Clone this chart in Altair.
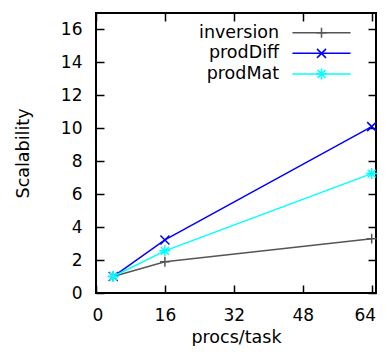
import altair as alt
import pandas as pd

procs = [4, 16, 64]
series_names = ["inversion", "prodDiff", "prodMat"]
inversion = [1.0, 1.9, 3.3]
prodDiff = [1.0, 3.22, 10.1]
prodMat = [1.0, 2.56, 7.25]
x_ticks = [0, 16, 32, 48, 64]
y_ticks = [0, 2, 4, 6, 8, 10, 12, 14, 16]
colors = ["#555555", "#0000ff", "#00ffff"]

# key (legend) placement, in data units of the plot
key_rows = [15.8, 14.55, 13.3]
key_label_x = 42.5
key_line_x0 = 45.6
key_line_x1 = 59.1
key_mark_x = 52.35

rows = []
for name, vals in zip(series_names, [inversion, prodDiff, prodMat]):
    for p, v in zip(procs, vals):
        rows.append({"series": name, "procs": p, "scal": v})
df = pd.DataFrame(rows)

key = pd.DataFrame({
    "series": series_names,
    "ky": key_rows,
    "lx": [key_label_x] * 3,
    "x0": [key_line_x0] * 3,
    "x1": [key_line_x1] * 3,
    "xm": [key_mark_x] * 3,
})

FONT = "DejaVu Sans"
SYM = 3364
marker_paths = [
    "M-0.17,0H0.17M0,-0.17V0.17",
    "M-0.155,-0.155L0.155,0.155M-0.155,0.155L0.155,-0.155",
    "M-0.19,0H0.19M0,-0.19V0.19M-0.135,-0.135L0.135,0.135M-0.135,0.135L0.135,-0.135",
]

xscale = alt.Scale(domain=[0, 65], nice=False, zero=False)
yscale = alt.Scale(domain=[0, 17], nice=False)
cscale = alt.Scale(domain=series_names, range=colors)
sscale = alt.Scale(domain=series_names, range=marker_paths)

tick_style = dict(labels=False, domain=False, grid=False, title=None,
                  tickColor="black", tickWidth=1.5, tickSize=8, offset=-8)

lines = alt.Chart(df).mark_line(strokeWidth=1.5).encode(
    x=alt.X("procs:Q", scale=xscale, axis=alt.Axis(
        orient="bottom", values=x_ticks, ticks=False, domain=False, grid=False,
        labelPadding=14, labelFont=FONT, labelFontSize=17, labelColor="black",
        labelFlush=5, labelFlushOffset=4,
        title="procs/task", titleFont=FONT, titleFontSize=17.5, titleColor="black",
        titleFontWeight="normal", titlePadding=5)),
    y=alt.Y("scal:Q", scale=yscale, axis=alt.Axis(
        orient="left", values=y_ticks, ticks=False, domain=False, grid=False,
        labelPadding=14, labelFont=FONT, labelFontSize=17, labelColor="black",
        title="Scalability", titleFont=FONT, titleFontSize=17.5, titleColor="black",
        titleFontWeight="normal", titlePadding=28)),
    color=alt.Color("series:N", scale=cscale, legend=None),
)

points = alt.Chart(df).mark_point(filled=False, size=SYM, strokeWidth=1.5, opacity=1).encode(
    x=alt.X("procs:Q", scale=xscale, axis=alt.Axis(orient="bottom", values=x_ticks, **tick_style)),
    y=alt.Y("scal:Q", scale=yscale, axis=alt.Axis(orient="left", values=y_ticks, **tick_style)),
    color=alt.Color("series:N", scale=cscale, legend=None),
    shape=alt.Shape("series:N", scale=sscale, legend=None),
)

mirror = alt.Chart(df).mark_point(opacity=0).encode(
    x=alt.X("procs:Q", scale=xscale, axis=alt.Axis(orient="top", values=x_ticks, **tick_style)),
    y=alt.Y("scal:Q", scale=yscale, axis=alt.Axis(orient="right", values=y_ticks, **tick_style)),
)

key_text = alt.Chart(key).mark_text(align="right", baseline="middle", font=FONT,
                                    fontSize=17.5, color="black").encode(
    x=alt.X("lx:Q", scale=xscale, axis=None),
    y=alt.Y("ky:Q", scale=yscale, axis=None),
    text="series:N",
)

key_line = alt.Chart(key).mark_rule(strokeWidth=1.5).encode(
    x=alt.X("x0:Q", scale=xscale, axis=None),
    x2="x1:Q",
    y=alt.Y("ky:Q", scale=yscale, axis=None),
    color=alt.Color("series:N", scale=cscale, legend=None),
)

key_mark = alt.Chart(key).mark_point(filled=False, size=SYM, strokeWidth=1.5, opacity=1).encode(
    x=alt.X("xm:Q", scale=xscale, axis=None),
    y=alt.Y("ky:Q", scale=yscale, axis=None),
    color=alt.Color("series:N", scale=cscale, legend=None),
    shape=alt.Shape("series:N", scale=sscale, legend=None),
)

chart = alt.layer(lines, points, mirror, key_text, key_line, key_mark).resolve_axis(
    x="independent", y="independent"
).properties(
    width=280, height=280,
    autosize=alt.AutoSizeParams(type="none"),
    padding={"left": 88, "top": 5, "right": 3, "bottom": 53},
).configure_view(
    stroke="black", strokeWidth=2
)

chart.save("out.html", embed_options={"renderer": "svg", "actions": False})
